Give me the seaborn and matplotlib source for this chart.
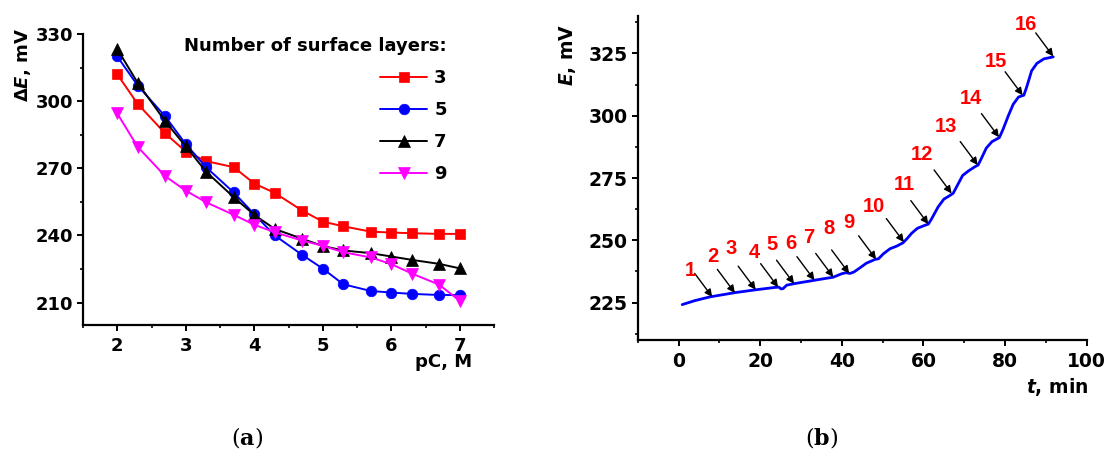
import matplotlib
matplotlib.use("Agg")
import matplotlib.pyplot as plt
import seaborn as sns
import numpy as np
from matplotlib.ticker import MultipleLocator

# ---------------- data: panel (a) ----------------
pC = [2, 2.3, 2.7, 3, 3.3, 3.7, 4, 4.3, 4.7, 5, 5.3, 5.7, 6, 6.3, 6.7, 7]
layers_3 = [312.0, 298.7, 285.6, 277.5, 273.2, 270.5, 263.2, 259.0, 251.1, 246.2,
            244.1, 241.7, 241.3, 241.0, 240.7, 240.7]
layers_5 = [320.0, 306.9, 293.2, 280.8, 270.4, 259.2, 249.5, 240.0, 231.3, 225.2,
            218.2, 215.2, 214.5, 213.9, 213.4, 213.4]
layers_7 = [323.3, 308.1, 291.0, 279.8, 268.4, 257.1, 249.2, 242.9, 238.5, 235.3,
            233.3, 232.1, 230.6, 229.1, 227.3, 225.3]
layers_9 = [294.5, 279.5, 266.5, 260.0, 254.8, 249.2, 244.8, 241.4, 237.7, 235.4,
            232.5, 230.2, 227.2, 223.0, 218.0, 210.8]
series_labels = ["3", "5", "7", "9"]

# ---------------- data: panel (b) ----------------
t_min = [0.9, 4.0, 7.7, 13.8, 18.7, 23.6, 24.6, 25.1, 25.6, 26.5, 28.3, 33.4, 37.9,
         40.0, 41.0, 42.0, 43.0, 44.4, 46.0, 48.1, 49.0, 50.2, 51.8, 53.5, 55.0,
         56.0, 57.1, 58.5, 60.0, 61.2, 62.0, 63.6, 65.0, 66.5, 67.3, 68.3, 69.6,
         71.0, 72.5, 73.4, 74.3, 75.4, 76.8, 78.6, 79.5, 80.8, 82.0, 83.3, 84.6,
         85.3, 86.5, 87.8, 89.5, 91.8]
E_mV = [224.2, 225.8, 227.3, 229.0, 230.1, 231.1, 231.2, 230.5, 230.6, 232.0, 232.6,
        234.0, 235.2, 236.6, 237.0, 236.7, 237.3, 238.9, 240.8, 242.3, 242.6, 244.6,
        246.6, 247.7, 249.0, 250.7, 252.8, 254.8, 255.8, 256.5, 258.6, 263.4, 266.5,
        268.0, 268.9, 272.0, 276.0, 277.8, 279.4, 280.2, 283.2, 287.0, 289.6, 291.2,
        294.5, 300.0, 304.6, 307.5, 308.2, 311.5, 318.0, 321.0, 322.8, 323.6]

mark_labels = [str(i) for i in range(1, 17)]
mark_t = [8.25, 13.8, 18.9, 24.4, 28.3, 33.3, 37.9, 41.8, 48.4, 55.2, 61.2, 66.9,
          73.3, 78.5, 84.3, 91.8]
mark_E = [227.3, 228.9, 230.2, 231.2, 232.6, 234.0, 235.3, 236.7, 242.4, 249.3,
          256.5, 268.8, 280.2, 291.4, 308.2, 323.8]
label_t = [2.8, 8.3, 13.0, 18.5, 22.8, 27.5, 32.0, 36.9, 41.8, 47.9, 55.3, 59.6,
           65.5, 71.6, 77.7, 85.0]
label_E = [237.8, 243.4, 246.6, 245.2, 248.2, 248.6, 251.0, 254.6, 257.3, 263.6,
           272.4, 284.5, 295.7, 306.8, 321.9, 336.7]

# ---------------- style ----------------
sns.set_theme(style="ticks")
plt.rcParams["font.family"] = ["DejaVu Sans"]
plt.rcParams["font.weight"] = "bold"
plt.rcParams["text.color"] = "black"
plt.rcParams["axes.labelcolor"] = "black"
plt.rcParams["xtick.color"] = "black"
plt.rcParams["ytick.color"] = "black"
plt.rcParams["legend.labelcolor"] = "black"
plt.rcParams["mathtext.fontset"] = "custom"
plt.rcParams["mathtext.rm"] = "DejaVu Sans"
plt.rcParams["mathtext.it"] = "DejaVu Sans:italic:bold"
plt.rcParams["mathtext.bf"] = "DejaVu Sans:bold"
plt.rcParams["mathtext.sf"] = "DejaVu Serif:bold"

W, H = 1105, 457
fig = plt.figure(figsize=(W / 100, H / 100), dpi=100)

def px_rect(x0, y0, x1, y1):
    return [x0 / W, 1 - y1 / H, (x1 - x0) / W, (y1 - y0) / H]

axA = fig.add_axes(px_rect(83, 34, 494, 325))
axB = fig.add_axes(px_rect(637.7, 16, 1086.7, 340))

def style_axis(ax, fs):
    for s in ["top", "right"]:
        ax.spines[s].set_visible(False)
    for s in ["left", "bottom"]:
        ax.spines[s].set_linewidth(1.6)
        ax.spines[s].set_color("black")
    ax.tick_params(which="major", direction="out", length=4.5, width=1.4,
                   labelsize=fs, pad=2.5, colors="black")
    ax.tick_params(which="minor", direction="out", length=2.5, width=1.2, colors="black")
    ax.grid(False)
    ax.set_facecolor("white")
    for lab in ax.get_xticklabels() + ax.get_yticklabels():
        lab.set_fontweight("bold")

# ---------------- panel (a) ----------------
colors = ["#FF0000", "#0000FF", "#000000", "#FF00FF"]
markers = ["s", "o", "^", "v"]
msizes = [7.2, 7.6, 8.0, 8.5]
for vals, lab, c, m, ms in zip([layers_3, layers_5, layers_7, layers_9],
                               series_labels, colors, markers, msizes):
    sns.lineplot(x=pC, y=vals, ax=axA, color=c, marker=m, markersize=ms,
                 markeredgecolor=c, markeredgewidth=0.5, linewidth=1.4,
                 label=lab, sort=False)

axA.set_xlim(1.5, 7.5)
axA.set_ylim(200, 330)
axA.xaxis.set_major_locator(MultipleLocator(1))
axA.xaxis.set_minor_locator(MultipleLocator(0.5))
axA.yaxis.set_major_locator(MultipleLocator(30))
axA.yaxis.set_minor_locator(MultipleLocator(15))
axA.set_yticks([210, 240, 270, 300, 330])
axA.set_xlabel("")
axA.set_ylabel("")
style_axis(axA, 13)
axA.tick_params(axis="x", pad=4)

leg = axA.legend(title="Number of surface layers:", frameon=False,
                 loc="upper right", bbox_to_anchor=(0.885, 0.99),
                 borderpad=0, borderaxespad=0, handlelength=2.6,
                 handletextpad=0.4, labelspacing=0.78,
                 prop={"weight": "bold", "size": 13},
                 title_fontproperties={"weight": "bold", "size": 13},
                 alignment="right")
leg.get_title().set_color("black")
for txt in leg.get_texts():
    txt.set_color("black")

fig.text(23 / W, 1 - 65 / H, r"$\Delta\mathit{E}$, mV", rotation=90,
         ha="center", va="center", fontsize=13, fontweight="bold", color="black")
fig.text(472 / W, 1 - 362 / H, "pC, M", ha="right", va="center",
         fontsize=13, fontweight="bold", color="black")

# ---------------- panel (b) ----------------
sns.lineplot(x=t_min, y=E_mV, ax=axB, color="#0000FF", linewidth=2.0, sort=False)
axB.set_xlim(-10, 100)
axB.set_ylim(210, 340)
axB.xaxis.set_major_locator(MultipleLocator(20))
axB.xaxis.set_minor_locator(MultipleLocator(10))
axB.yaxis.set_major_locator(MultipleLocator(25))
axB.yaxis.set_minor_locator(MultipleLocator(12.5))
axB.set_yticks([225, 250, 275, 300, 325])
axB.set_xlabel("")
axB.set_ylabel("")
style_axis(axB, 13.5)
axB.tick_params(axis="x", pad=4)

for lab, tx, ey, lx, ly in zip(mark_labels, mark_t, mark_E, label_t, label_E):
    axB.annotate("", xy=(tx, ey), xycoords="data",
                 xytext=(-17.5, 23.5), textcoords="offset pixels",
                 arrowprops=dict(arrowstyle="-|>", color="black", lw=1.0,
                                 mutation_scale=11, shrinkA=0, shrinkB=0))
    axB.text(lx, ly, lab, color="#FF0000", fontsize=14.5, fontweight="bold",
             family="Liberation Sans", ha="center", va="center")

fig.text(568 / W, 1 - 55 / H, r"$\mathit{E}$, mV", rotation=90,
         ha="center", va="center", fontsize=13.5, fontweight="bold", color="black")
fig.text(1088 / W, 1 - 387 / H, r"$\mathit{t}$, min", ha="right", va="center",
         fontsize=13.5, fontweight="bold", color="black")

# ---------------- captions ----------------
fig.text(247 / W, 1 - 437 / H, r"($\mathsf{a}$)", ha="center", va="center",
         fontsize=16, family="DejaVu Serif", fontweight="normal", color="black")
fig.text(822 / W, 1 - 437 / H, r"($\mathsf{b}$)", ha="center", va="center",
         fontsize=16, family="DejaVu Serif", fontweight="normal", color="black")

fig.savefig("out.png", dpi=100, facecolor="white")
